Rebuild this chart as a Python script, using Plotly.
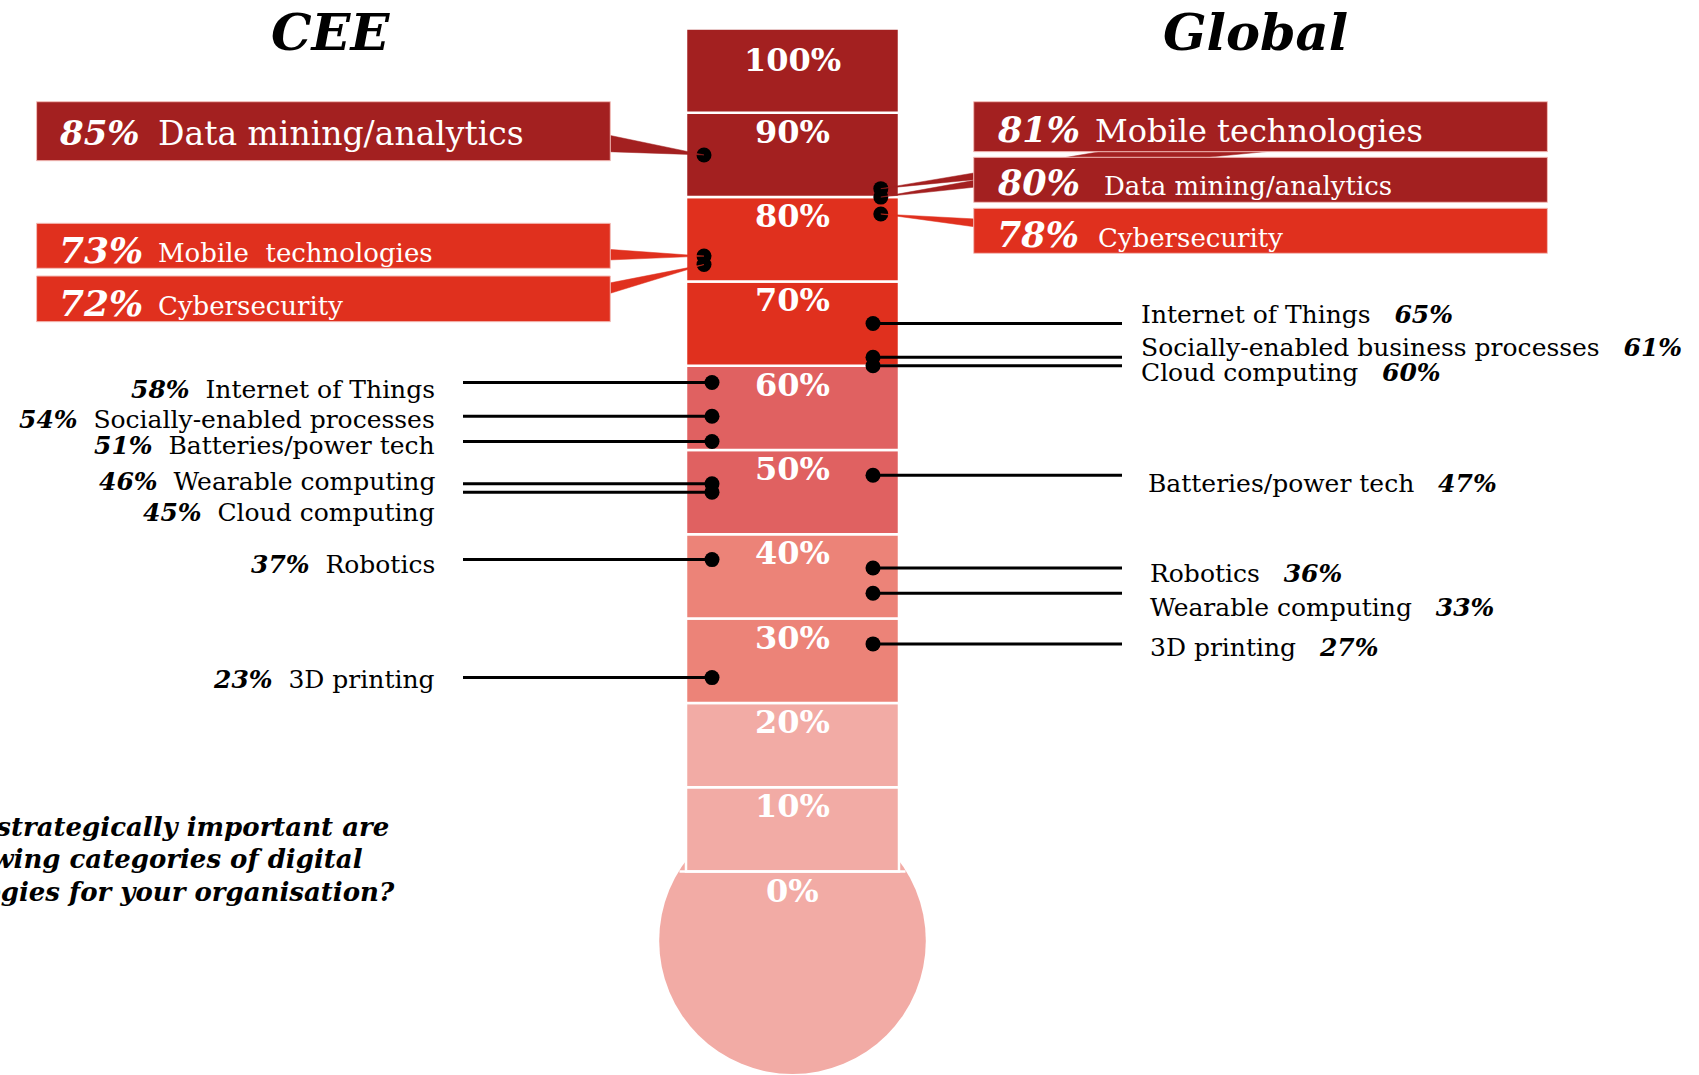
import plotly.graph_objects as go

W, H = 1699, 1075
FONT = "DejaVu Serif"

# Share of respondents rating each digital technology as strategically important
cee_items = ["Data mining/analytics", "Mobile\u00a0 technologies", "Cybersecurity",
             "Internet of Things", "Socially-enabled processes", "Batteries/power tech",
             "Wearable computing", "Cloud computing", "Robotics", "3D printing"]
cee_values = [85, 73, 72, 58, 54, 51, 46, 45, 37, 23]

global_items = ["Mobile technologies", "Data mining/analytics", "Cybersecurity",
                "Internet of Things", "Socially-enabled business processes", "Cloud computing",
                "Batteries/power tech", "Robotics", "Wearable computing", "3D printing"]
global_values = [81, 80, 78, 65, 61, 60, 47, 36, 33, 27]

scale_ticks = [0, 10, 20, 30, 40, 50, 60, 70, 80, 90, 100]
tick_labels = [f"{t}%" for t in scale_ticks]

panel_titles = ["CEE", "Global"]
question_lines = ["How strategically important are",
                  "the following categories of digital",
                  "technologies for your organisation?"]

N_BOXED = 3  # top entries on each side get a coloured callout box

# ---- styling / layout -------------------------------------------------------
DARK, RED, ROSE, SALMON, LIGHT = "#A32020", "#E0301E", "#E06161", "#EC8378", "#F2ABA5"


def band_colour(v):
    if v >= 80:
        return DARK
    if v >= 60:
        return RED
    if v >= 40:
        return ROSE
    if v >= 20:
        return SALMON
    return LIGHT


# percent axis: 100% near the top of the page, 0% where the bulb starts
Y_TOP, Y_BOT = 103.381, -24.140


def to_px(v):
    return (Y_TOP - v) / (Y_TOP - Y_BOT) * H


TUBE_X, TUBE_W = 792.5, 213
BULB_CY, BULB_R = 940.7, 133.3

CEE_DOT_BOX, CEE_DOT = 704, 712
GLB_DOT_BOX, GLB_DOT = 880.8, 873
CEE_LINE_START, GLB_LINE_END = 463, 1122
CEE_LABEL_RIGHT = 437
glb_label_x = [1139, 1139, 1139, 1146, 1148, 1148, 1148]
cee_label_dy = [7, 3, 4, -2, 20, 5, 2]
glb_label_dy = [-9, -10, 7, 8, 5, 14, 4]

cee_box_x = (36.6, 610.3)
cee_box_y = [(101.7, 160.7), (223.3, 268.3), (276.0, 321.7)]
glb_box_x = (973.7, 1547.4)
glb_box_y = [(101.7, 151.7), (157.3, 202.3), (208.3, 253.3)]

cee_wedge = [((608, 135), (608, 151.7)), ((608, 249.3), (608, 260)), ((608, 283.3), (608, 294))]
glb_wedge = [((1116, 149), (1293, 149)), ((976, 180), (976, 187)), ((976, 219), (976, 227))]

cee_pct_size, cee_name_size = [34, 36, 36], [33, 26, 26]
cee_base, cee_name_x = [145, 262, 315], [156, 156, 156]
glb_pct_size, glb_name_size = [35, 35, 35], [32, 26, 26]
glb_base, glb_name_x = [142, 195, 247], [1093, 1102, 1096]

fig = go.Figure()

# thermometer tube as stacked 10-point bands
bases = scale_ticks[:-1]
fig.add_trace(go.Bar(
    x=[TUBE_X] * len(bases), y=[10] * len(bases), base=bases, width=TUBE_W,
    marker=dict(color=[band_colour(b) for b in bases], line=dict(color="white", width=2.5)),
    hoverinfo="skip", showlegend=False))

shapes = []
# bulb
shapes.append(dict(type="circle", xref="x", yref="y2", layer="below",
                   x0=TUBE_X - BULB_R, x1=TUBE_X + BULB_R,
                   y0=BULB_CY - BULB_R, y1=BULB_CY + BULB_R,
                   fillcolor=LIGHT, line=dict(width=0)))
shapes.append(dict(type="line", xref="x", yref="y", layer="above",
                   x0=TUBE_X - 113, x1=TUBE_X + 113, y0=0, y1=0,
                   line=dict(color="white", width=2.5)))

# callout wedges (drawn under the boxes)
for i in range(N_BOXED):
    for (b1, b2), v, dx in ((cee_wedge[i], cee_values[i], CEE_DOT_BOX),
                            (glb_wedge[i], global_values[i], GLB_DOT_BOX)):
        fig.add_trace(go.Scatter(
            x=[b1[0], dx, b2[0], b1[0]], y=[b1[1], to_px(v), b2[1], b1[1]],
            yaxis="y2", mode="lines", fill="toself", fillcolor=band_colour(v),
            line=dict(width=0.5, color=band_colour(v)), hoverinfo="skip", showlegend=False))

# callout boxes
for i in range(N_BOXED):
    for bx, by, v in ((cee_box_x, cee_box_y[i], cee_values[i]),
                      (glb_box_x, glb_box_y[i], global_values[i])):
        shapes.append(dict(type="rect", xref="x", yref="y2", layer="above",
                           x0=bx[0], x1=bx[1], y0=by[0], y1=by[1],
                           fillcolor=band_colour(v), line=dict(color="#F3BDB8", width=1)))

# leader lines for the remaining entries
lx, ly = [], []
for v in cee_values[N_BOXED:]:
    lx += [CEE_LINE_START, CEE_DOT, None]
    ly += [v, v, None]
for v in global_values[N_BOXED:]:
    lx += [GLB_DOT, GLB_LINE_END, None]
    ly += [v, v, None]
fig.add_trace(go.Scatter(x=lx, y=ly, mode="lines", line=dict(color="black", width=3),
                         hoverinfo="skip", showlegend=False))

# dots
cee_dot_x = [CEE_DOT_BOX] * N_BOXED + [CEE_DOT] * (len(cee_values) - N_BOXED)
glb_dot_x = [GLB_DOT_BOX] * N_BOXED + [GLB_DOT] * (len(global_values) - N_BOXED)
fig.add_trace(go.Scatter(x=cee_dot_x + glb_dot_x, y=cee_values + global_values, mode="markers",
                         marker=dict(color="black", size=15), hoverinfo="skip", showlegend=False))

ann = []
# scale labels inside the tube
for t, lab in zip(scale_ticks, tick_labels):
    ann.append(dict(x=TUBE_X, y=t, xref="x", yref="y", text=f"<b>{lab}</b>",
                    showarrow=False, yshift=-(31 if t == 100 else 19),
                    font=dict(family=FONT, size=32, color="white")))

# boxed callouts
for i in range(N_BOXED):
    for pct_x, nx, base, ps, ns, v, name in (
            (57, cee_name_x[i], cee_base[i], cee_pct_size[i], cee_name_size[i], cee_values[i], cee_items[i]),
            (995, glb_name_x[i], glb_base[i], glb_pct_size[i], glb_name_size[i], global_values[i], global_items[i])):
        ann.append(dict(x=pct_x, y=base - 0.346 * ps, xref="x", yref="y2", xanchor="left",
                        text=f"<b><i>{v}%</i></b>", showarrow=False,
                        font=dict(family=FONT, size=ps, color="white")))
        ann.append(dict(x=nx, y=base - 0.346 * ns, xref="x", yref="y2", xanchor="left",
                        text=name, showarrow=False,
                        font=dict(family=FONT, size=ns, color="white")))

# plain labels
sp2, sp3 = "\u00a0\u00a0", "\u00a0\u00a0\u00a0"
for j, (v, name) in enumerate(zip(cee_values[N_BOXED:], cee_items[N_BOXED:])):
    ann.append(dict(x=CEE_LABEL_RIGHT, y=v, xref="x", yref="y", xanchor="right",
                    yshift=-cee_label_dy[j], showarrow=False,
                    text=f"<b><i>{v}%</i></b>{sp2}{name}",
                    font=dict(family=FONT, size=25, color="black")))
for j, (v, name) in enumerate(zip(global_values[N_BOXED:], global_items[N_BOXED:])):
    ann.append(dict(x=glb_label_x[j], y=v, xref="x", yref="y", xanchor="left",
                    yshift=-glb_label_dy[j], showarrow=False,
                    text=f"{name}{sp3}<b><i>{v}%</i></b>",
                    font=dict(family=FONT, size=25, color="black")))

# panel titles
for title, tx in zip(panel_titles, [330, 1255]):
    ann.append(dict(x=tx, y=32, xref="x", yref="y2", showarrow=False,
                    text=f"<b><i>{title}</i></b>",
                    font=dict(family=FONT, size=51, color="black")))

# survey question
for line, ex, ey in zip(question_lines, [391, 365, 397], [827, 859, 892]):
    ann.append(dict(x=ex, y=ey, xref="x", yref="y2", xanchor="right", showarrow=False,
                    text=f"<b><i>{line}</i></b>",
                    font=dict(family=FONT, size=26, color="black")))

fig.update_layout(
    width=W, height=H, autosize=False,
    margin=dict(l=0, r=0, t=0, b=0, pad=0),
    paper_bgcolor="white", plot_bgcolor="white",
    barmode="overlay", showlegend=False,
    xaxis=dict(range=[0, W], visible=False, fixedrange=True),
    yaxis=dict(range=[Y_BOT, Y_TOP], visible=False, fixedrange=True),
    yaxis2=dict(range=[H, 0], visible=False, fixedrange=True, overlaying="y", anchor="x"),
    shapes=shapes, annotations=ann,
)

fig.write_html("out.html", config={"displayModeBar": False, "staticPlot": True})
